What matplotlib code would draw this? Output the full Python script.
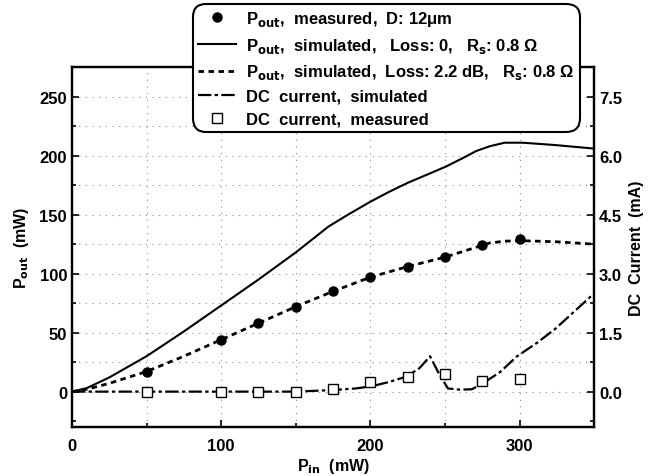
import matplotlib.pyplot as plt
import numpy as np
from matplotlib.ticker import MultipleLocator

plt.rcParams['font.family'] = ['Liberation Sans', 'DejaVu Sans']

# measured output power
pin_meas = [50, 100, 125, 150, 175, 200, 225, 250, 275, 300]
pout_meas = [17, 44, 58, 72, 85, 97.5, 106, 114, 124, 129]

# simulated, loss 0
pin_sim0 = [0, 10, 25, 50, 75, 100, 125, 150, 172, 185, 200, 212, 225, 240, 251, 262, 271, 280, 290, 302, 324, 350]
pout_sim0 = [0, 3, 12, 30, 51, 73, 95, 118, 140, 150, 161, 169, 177, 185, 191, 198, 204, 208, 211, 211, 209, 206]

# simulated, loss 2.2 dB
pin_sim22 = [0, 10, 25, 50, 75, 100, 125, 150, 175, 200, 225, 250, 265, 280, 290, 300, 325, 350]
pout_sim22 = [0, 2, 7, 17, 30, 44, 58, 72, 85, 97, 106, 114, 120, 126, 127.5, 128, 127, 125]

# DC current simulated (mA)
pin_dc = [0, 50, 100, 150, 175, 190, 200, 212, 224, 233, 240, 246, 252, 260, 268, 275, 287, 298, 312, 324, 337, 350]
dc_sim = [0, 0, 0, 0, 0.04, 0.08, 0.13, 0.24, 0.38, 0.6, 0.9, 0.45, 0.08, 0.05, 0.06, 0.2, 0.5, 0.89, 1.25, 1.6, 2.05, 2.5]

# DC current measured (mA)
pin_dcm = [50, 100, 125, 150, 175, 200, 225, 250, 275, 300]
dc_meas = [0, 0, 0, 0, 0.07, 0.25, 0.38, 0.46, 0.28, 0.33]

fig = plt.figure(figsize=(6.48, 4.77), dpi=100)
ax = fig.add_axes([0.111, 0.1027, 0.806, 0.7543])
ax2 = ax.twinx()

ax.set_xlim(0, 350)
ax.set_ylim(-30, 275)
ax2.set_ylim(-30 * 0.03, 275 * 0.03)

gs = dict(color='0.55', linestyle=(0, (1, 5)), linewidth=0.8)
for x in np.arange(50, 350, 50):
    ax.axvline(x, **gs, zorder=0)
for y in np.arange(0, 275, 25):
    ax.axhline(y, **gs, zorder=0)

l1, = ax.plot(pin_meas, pout_meas, 'o', color='black', markersize=6.5, zorder=5)
l2, = ax.plot(pin_sim0, pout_sim0, '-', color='black', linewidth=1.5)
l3, = ax.plot(pin_sim22, pout_sim22, color='black', linewidth=2.0, linestyle=(0, (2, 1.6)))
l4, = ax2.plot(pin_dc, dc_sim, color='black', linewidth=1.6, linestyle=(0, (6, 1.5, 1.5, 1.5)))
l5, = ax2.plot(pin_dcm, dc_meas, 's', markerfacecolor='white', markeredgecolor='black',
               markersize=7, markeredgewidth=1.0, zorder=6)

ax.xaxis.set_major_locator(MultipleLocator(100))
ax.xaxis.set_minor_locator(MultipleLocator(50))
ax.yaxis.set_major_locator(MultipleLocator(50))
ax.yaxis.set_minor_locator(MultipleLocator(25))
ax2.yaxis.set_major_locator(MultipleLocator(1.5))
ax2.yaxis.set_minor_locator(MultipleLocator(0.75))
ax2.yaxis.set_major_formatter(plt.FuncFormatter(lambda v, p: '%.1f' % v))

for a in (ax, ax2):
    a.tick_params(which='both', direction='in', labelsize=12, width=1.2)
    a.tick_params(which='major', length=5)
    a.tick_params(which='minor', length=3)
    for s in a.spines.values():
        s.set_linewidth(1.6)
ax.tick_params(axis='x', pad=8)
for lab in ax.get_xticklabels() + ax.get_yticklabels() + ax2.get_yticklabels():
    lab.set_fontweight('bold')

ax.set_xlabel('P$_{\\mathbf{in}}$  (mW)', fontsize=11.5, fontweight='bold', labelpad=2)
ax.set_ylabel('P$_{\\mathbf{out}}$  (mW)', fontsize=11.5, fontweight='bold', labelpad=6)
ax2.set_ylabel('DC  Current  (mA)', fontsize=11.5, fontweight='bold', labelpad=5)

labels = [
    'P$_{\\mathbf{out}}$,  measured,  D: 12μm',
    'P$_{\\mathbf{out}}$,  simulated,   Loss: 0,   R$_{\\mathbf{s}}$: 0.8 Ω',
    'P$_{\\mathbf{out}}$,  simulated,  Loss: 2.2 dB,   R$_{\\mathbf{s}}$: 0.8 Ω',
    'DC  current,  simulated',
    'DC  current,  measured',
]
leg = fig.legend([l1, l2, l3, l4, l5], labels, loc='upper left',
                 bbox_to_anchor=(193 / 648, 1 - 5 / 477), borderaxespad=0, fontsize=12,
                 handlelength=2.3, handletextpad=0.6, labelspacing=0.46,
                 borderpad=0.3, fancybox=True, framealpha=1, edgecolor='black')
leg.get_frame().set_linewidth(1.5)
leg.get_frame().set_boxstyle('round', pad=0.0, rounding_size=0.8)
for t in leg.get_texts():
    t.set_fontweight('bold')

fig.savefig('out.png', dpi=100)
